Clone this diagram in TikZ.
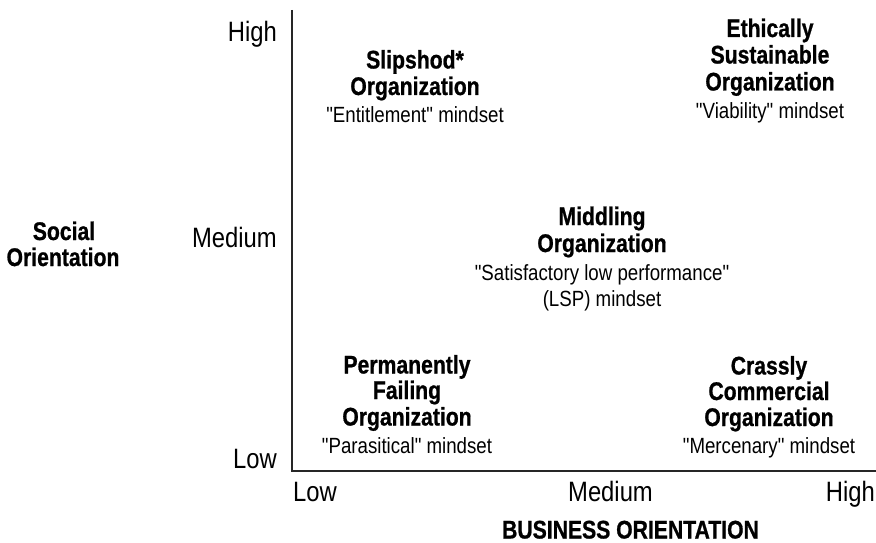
\documentclass[tikz,border=0pt]{standalone}
\usepackage{fontspec}
\setmainfont{Liberation Sans}[FakeStretch=0.85, Ligatures=TeXOff]
\newfontfamily\boldfam{Liberation Sans}[FakeStretch=0.83, FakeBold=0.8]
\begin{document}
\begin{tikzpicture}[x=1pt,y=-1pt,
  lab/.style={font=\fontsize{28}{30}\selectfont, inner sep=0pt},
  hd/.style={font=\boldfam\bfseries\fontsize{25.5}{27}\selectfont, inner sep=0pt, anchor=base},
  md/.style={font=\fontsize{22}{24}\selectfont, inner sep=0pt, anchor=base},
  axisline/.style={line width=1.3pt, black!85}]
\useasboundingbox (0,0) rectangle (876,543);
% axes
\coordinate (top) at (292,10);
\coordinate (origin) at (292,471);
\coordinate (right) at (876,471);
\draw[axisline] (top) -- (origin) -- (right);
% y-axis tick labels
\node[lab, anchor=base east] (yh) at (277,41.5) {High};
\node[lab, anchor=base east] (ym) at (277,247.3) {Medium};
\node[lab, anchor=base east] (yl) at (277,468) {Low};
% x-axis tick labels
\node[lab, anchor=base west] (xl) at (293,501.5) {Low};
\node[lab, anchor=base] (xm) at (610.5,501.5) {Medium};
\node[lab, anchor=base east] (xh) at (875,501.5) {High};
% axis titles
\node[hd] (bo) at (630.5,538.5) {BUSINESS ORIENTATION};
\node[hd] (so1) at (64,240) {Social};
\node[hd] (so2) at (63,266) {Orientation};
% Slipshod
\node[hd] (sl1) at (415,68.5) {Slipshod*};
\node[hd] (sl2) at (415,95) {Organization};
\node[md] (sl3) at (415,122.5) {"Entitlement" mindset};
% Ethically
\node[hd] (et1) at (770,37) {Ethically};
\node[hd] (et2) at (770,63.5) {Sustainable};
\node[hd] (et3) at (770,90.5) {Organization};
\node[md] (et4) at (770,118) {"Viability" mindset};
% Middling
\node[hd] (mi1) at (602,225) {Middling};
\node[hd] (mi2) at (602,252) {Organization};
\node[md] (mi3) at (602,280) {"Satisfactory low performance"};
\node[md] (mi4) at (602,306) {(LSP) mindset};
% Permanently failing
\node[hd] (pf1) at (407,373.5) {Permanently};
\node[hd] (pf2) at (407,399) {Failing};
\node[hd] (pf3) at (407,425.5) {Organization};
\node[md] (pf4) at (407,453) {"Parasitical" mindset};
% Crassly commercial
\node[hd] (cc1) at (769,374.5) {Crassly};
\node[hd] (cc2) at (769,400) {Commercial};
\node[hd] (cc3) at (769,426) {Organization};
\node[md] (cc4) at (769,453) {"Mercenary" mindset};
\end{tikzpicture}
\end{document}
